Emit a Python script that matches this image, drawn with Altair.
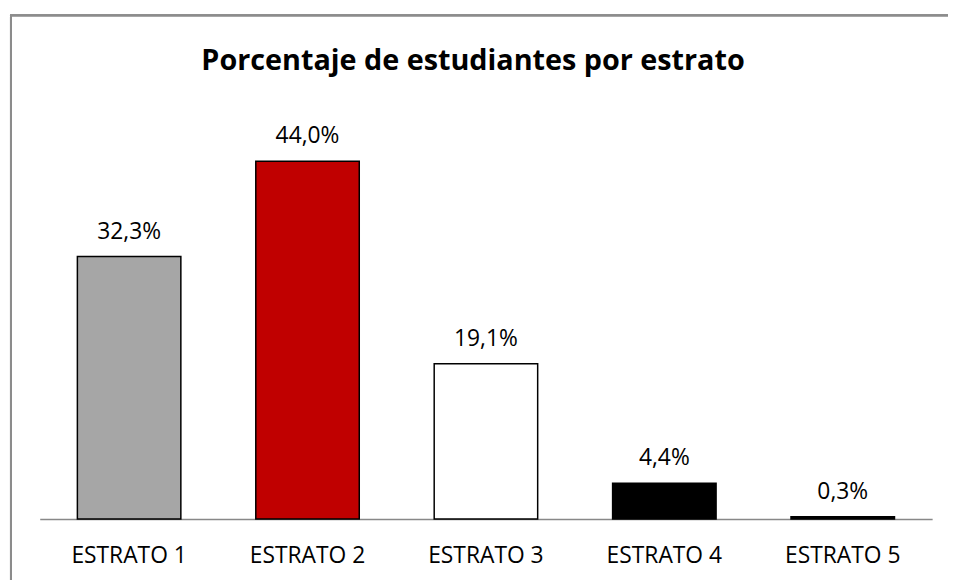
import altair as alt
import pandas as pd

categories = ["ESTRATO 1", "ESTRATO 2", "ESTRATO 3", "ESTRATO 4", "ESTRATO 5"]
values = [32.3, 44.0, 19.1, 4.4, 0.3]
labels = ["32,3%", "44,0%", "19,1%", "4,4%", "0,3%"]
colors = ["#A6A6A6", "#C00000", "#FFFFFF", "#000000", "#000000"]

df = pd.DataFrame({"cat": categories, "val": values, "lab": labels, "col": colors})

FONT = "Open Sans"

x = alt.X("cat:N", sort=categories, title=None,
          scale=alt.Scale(paddingInner=0.42, paddingOuter=0.211),
          axis=alt.Axis(labelAngle=0, ticks=False, domainColor="#888888", domainWidth=1.5,
                        labelFontSize=23, labelFont=FONT, labelColor="#000000",
                        labelBaseline="alphabetic", labelPadding=44))
y = alt.Y("val:Q", title=None, scale=alt.Scale(domain=[0, 50]), axis=None)

frame = alt.Chart(df).mark_rect(fill=None, stroke="#8c8c8c", strokeWidth=2).encode(
    x=alt.value(-29), x2=alt.value(960), y=alt.value(-98), y2=alt.value(500)
)

bars = alt.Chart(df).mark_bar(stroke="#000000", strokeWidth=1.5).encode(
    x=x, y=y, color=alt.Color("col:N", scale=None)
)

text = alt.Chart(df).mark_text(baseline="alphabetic", dy=-18, fontSize=23, font=FONT, color="#000000").encode(
    x=x, y=y, text="lab:N"
)

chart = alt.layer(frame, bars, text).properties(
    width=900, height=410,
    autosize=alt.AutoSizeParams(type="none"),
    padding={"left": 32, "top": 103, "right": 16, "bottom": 59},
    title=alt.TitleParams("Porcentaje de estudiantes por estrato", fontSize=29, font=FONT,
                          fontWeight="bold", color="#000000", anchor="middle", dx=-13,
                          frame="group", baseline="alphabetic", offset=-85),
).configure_view(stroke=None)

chart.save("out.html", embed_options={"renderer": "svg", "actions": False})
